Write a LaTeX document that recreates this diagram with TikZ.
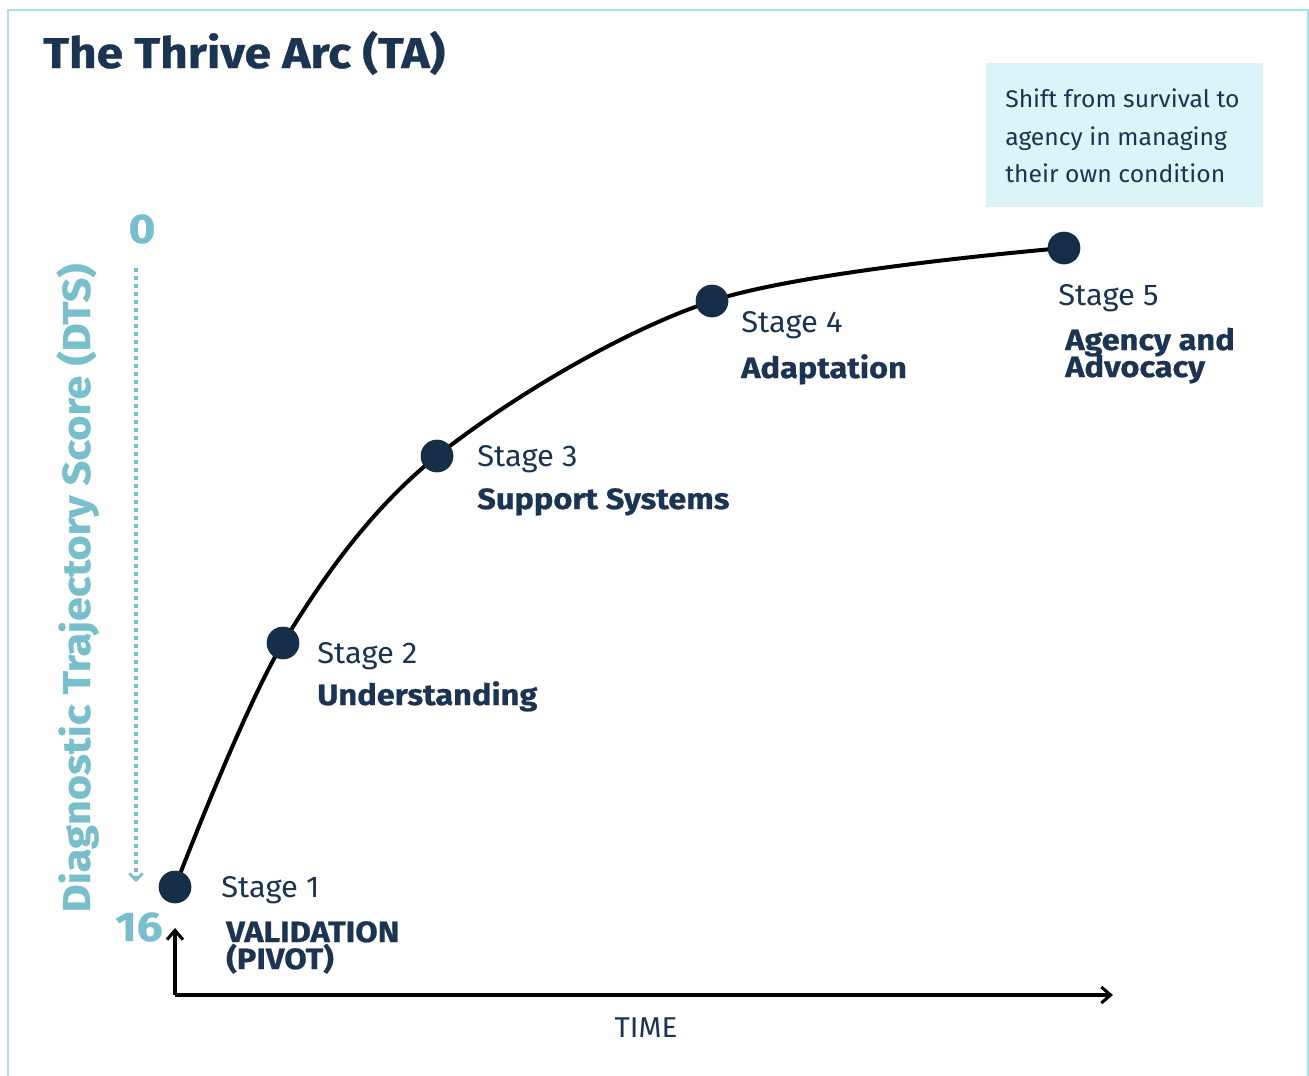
\documentclass[tikz,border=0pt]{standalone}
\usepackage{fontspec}
\setmainfont{Fira Sans}[FakeStretch=1.03]
\newfontfamily\heavyfont{Fira Sans}[FakeStretch=1.11, BoldFeatures={FakeBold=0.7}]
\usetikzlibrary{arrows.meta}

\definecolor{navy}{HTML}{1B3452}
\definecolor{dotnavy}{HTML}{172E48}
\definecolor{teal}{HTML}{78BFCB}
\definecolor{frameblue}{HTML}{A6E1EC}
\definecolor{notefill}{HTML}{DAF4F8}

\tikzset{
  stagedot/.style={circle, fill=dotnavy, minimum size=32.5*0.75pt, inner sep=0pt},
  stagenum/.style={anchor=base west, inner sep=0pt, text=navy, font=\fontsize{22.5pt}{26pt}\selectfont},
  stagename/.style={anchor=base west, inner sep=0pt, text=navy,
    font=\heavyfont\bfseries\fontsize{22pt}{22pt}\selectfont},
  notetext/.style={anchor=base west, inner sep=0pt, text=navy, font=\fontsize{18pt}{20pt}\selectfont},
  axisline/.style={line width=2.3pt, -{Straight Barb[length=7pt, width=12pt, line width=2.3pt]}},
  scorelabel/.style={text=teal, inner sep=0pt, font=\heavyfont\bfseries\fontsize{31pt}{31pt}\selectfont},
}

\begin{document}
\begin{tikzpicture}[x=0.75pt, y=-0.75pt]
  \useasboundingbox (0,0) rectangle (1309,1075);
  \fill[white] (0,0) rectangle (1309,1075);

  % outer frame (open at the bottom edge of the page)
  \draw[frameblue, line width=1.8pt] (8,1090) -- (8,10) -- (1308,10) -- (1308,1090);

  % title
  \node[anchor=base west, inner sep=0pt, text=navy,
        font=\heavyfont\bfseries\fontsize{32.3pt}{34pt}\selectfont] (title) at (43,68) {The Thrive Arc (TA)};

  % note box
  \node[anchor=north west, fill=notefill, minimum width=277*0.75pt, minimum height=144*0.75pt,
        inner sep=0pt] (note) at (986,63) {};
  \node[notetext] (note1) at (1005,107) {Shift from survival to};
  \node[notetext] (note2) at (1005,145) {agency in managing};
  \node[notetext] (note3) at (1005,182) {their own condition};

  % score axis (vertical, dotted)
  \node[scorelabel] (zero) at (142,229) {0};
  \node[scorelabel] (sixteen) at (139,927) {16};
  \coordinate (dtstop) at (136,268);
  \coordinate (dtsbot) at (136,882);
  \draw[teal, line width=3pt, dash pattern=on 3pt off 3pt,
        -{Straight Barb[length=5pt, width=10pt, line width=2pt]}] (dtstop) -- (dtsbot);
  \node[rotate=90, anchor=base, inner sep=0pt, text=teal,
        font=\heavyfont\bfseries\fontsize{29.2pt}{32pt}\selectfont] (dtslabel) at (90,588)
        {Diagnostic Trajectory Score (DTS)};

  % stages
  \node[stagedot] (s1) at (175,887) {};
  \node[stagedot] (s2) at (283,643) {};
  \node[stagedot] (s3) at (437,456) {};
  \node[stagedot] (s4) at (712,301) {};
  \node[stagedot] (s5) at (1064,248) {};

  % time axis
  \coordinate (origin) at (175,995);
  \coordinate (timeend) at (1113,995);
  \coordinate (scoreend) at (175,928);
  \draw[axisline] (origin) -- (timeend);
  \draw[axisline] (origin) -- (scoreend);
  \node[anchor=base, inner sep=0pt, text=navy, font=\fontsize{21.5pt}{24pt}\selectfont]
        (time) at (646,1037) {TIME};

  % the arc through the stages, dots drawn over it
  \draw[line width=3pt, black] plot[smooth, tension=0.55]
        coordinates {(s1.center) (s2.center) (s3.center) (s4.center) (s5.center)};
  \foreach \s in {s1,s2,s3,s4,s5} {\fill[dotnavy] (\s) circle[radius=16.25];}

  % stage labels
  \node[stagenum] (l1) at (221,897) {Stage 1};
  \node[stagename] (n1a) at (226,942) {VALIDATION};
  \node[stagename] (n1b) at (226,969) {(PIVOT)};
  \node[stagenum] (l2) at (317,663) {Stage 2};
  \node[stagename] (n2) at (317,705) {Understanding};
  \node[stagenum] (l3) at (477,466) {Stage 3};
  \node[stagename] (n3) at (477,509) {Support Systems};
  \node[stagenum] (l4) at (741,332) {Stage 4};
  \node[stagename] (n4) at (741,378) {Adaptation};
  \node[stagenum] (l5) at (1058,305) {Stage 5};
  \node[stagename] (n5a) at (1065,350) {Agency and};
  \node[stagename] (n5b) at (1065,377) {Advocacy};
\end{tikzpicture}
\end{document}
